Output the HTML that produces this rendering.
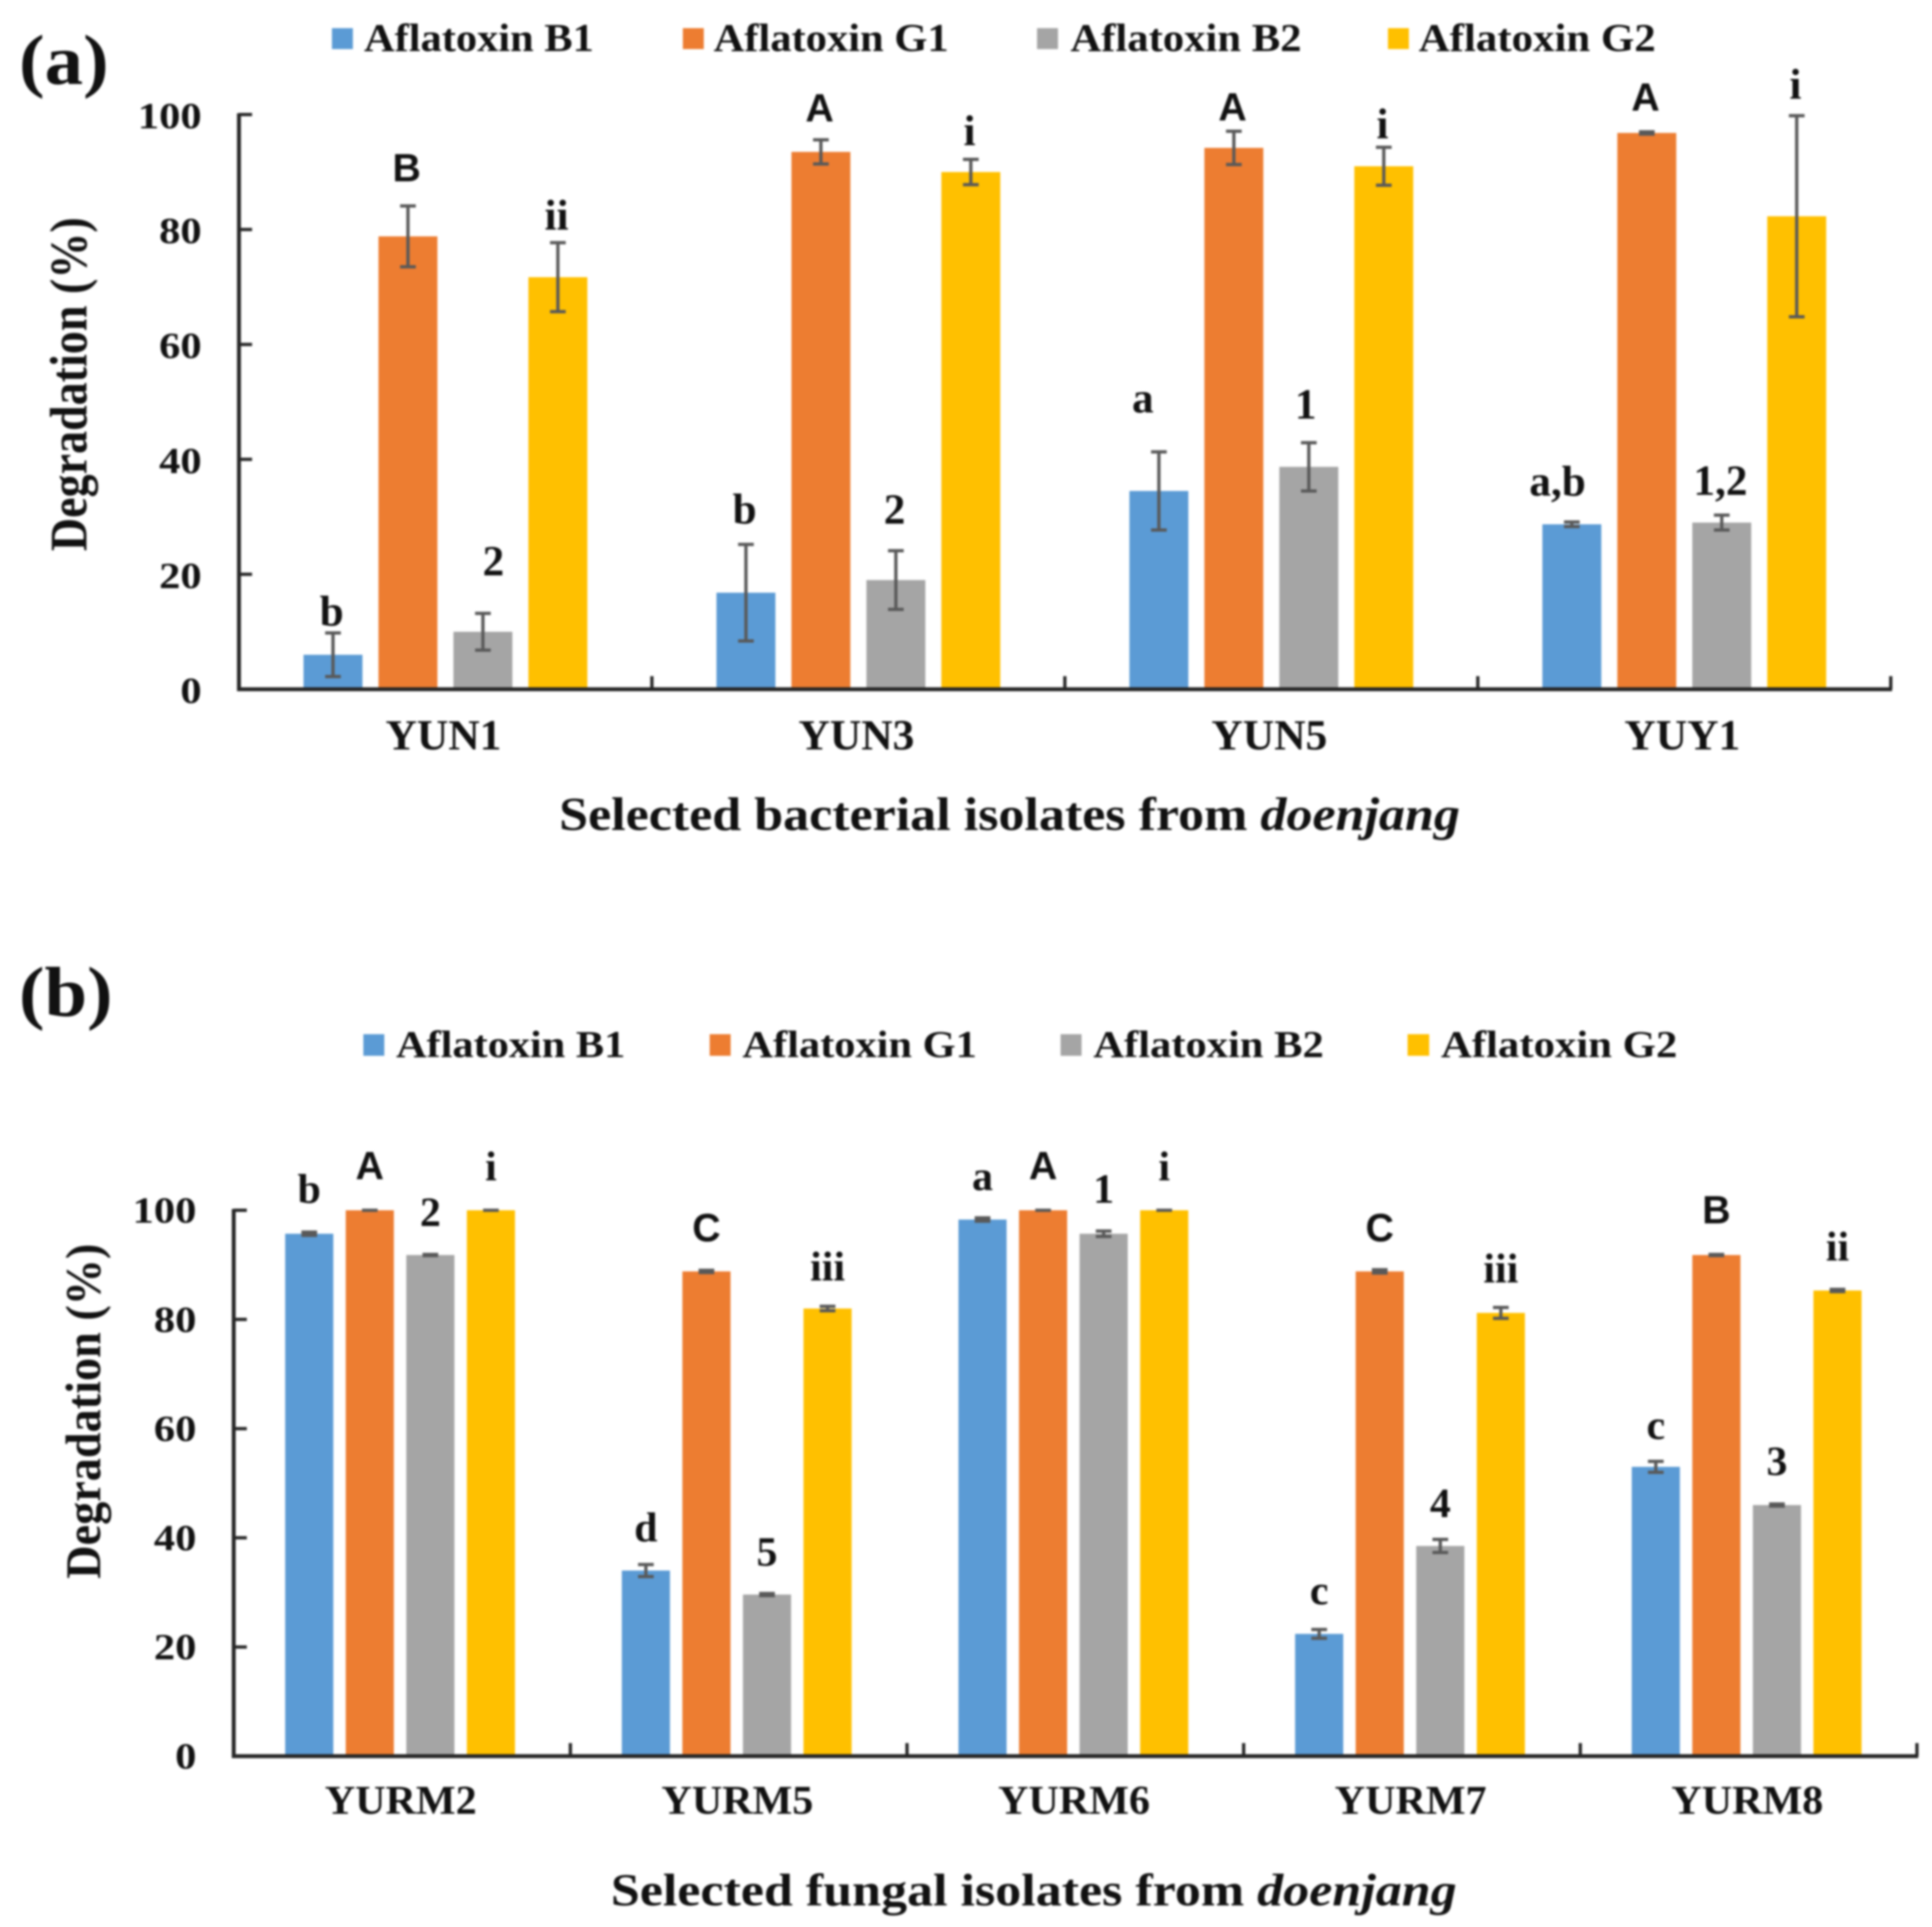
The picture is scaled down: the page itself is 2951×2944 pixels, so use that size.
<!DOCTYPE html>
<html lang="en">
<head>
<meta charset="utf-8">
<title>Aflatoxin degradation by doenjang isolates</title>
<style>
html,body{margin:0;padding:0;background:#fff;width:2951px;height:2944px;overflow:hidden}
svg{display:block;filter:blur(1.5px)}
text{font-family:"Liberation Serif",serif;font-weight:bold;fill:#111}
.sans{font-family:"Liberation Sans",sans-serif;fill:#111}
</style>
</head>
<body>
<svg id="figure" xmlns="http://www.w3.org/2000/svg" width="2951" height="2944" viewBox="0 0 2951 2944">
  <rect width="2951" height="2944" fill="#fff"/>

  <text x="29" y="128" font-size="108" textLength="137" lengthAdjust="spacingAndGlyphs">(a)</text>
  <g>
    <g><rect x="507" y="43" width="32" height="32" fill="#5B9BD5"/><text x="556" y="78" font-size="60" textLength="351" lengthAdjust="spacingAndGlyphs">Aflatoxin B1</text></g>
    <g><rect x="1043" y="43" width="32" height="32" fill="#ED7D31"/><text x="1090" y="78" font-size="60" textLength="359" lengthAdjust="spacingAndGlyphs">Aflatoxin G1</text></g>
    <g><rect x="1584" y="43" width="32" height="32" fill="#A5A5A5"/><text x="1635" y="78" font-size="60" textLength="353" lengthAdjust="spacingAndGlyphs">Aflatoxin B2</text></g>
    <g><rect x="2120" y="43" width="32" height="32" fill="#FFC000"/><text x="2167" y="78" font-size="60" textLength="362" lengthAdjust="spacingAndGlyphs">Aflatoxin G2</text></g>
  </g>
  <text transform="translate(132,587) rotate(-90)" text-anchor="middle" font-size="80" textLength="510" lengthAdjust="spacingAndGlyphs">Degradation (%)</text>
  <text x="854" y="1268" font-size="72" textLength="1376" lengthAdjust="spacingAndGlyphs">Selected bacterial isolates from <tspan font-style="italic">doenjang</tspan></text>
  <g id="chart-a"></g>

  <text x="29" y="1552" font-size="108" textLength="143" lengthAdjust="spacingAndGlyphs">(b)</text>
  <g>
    <g><rect x="555" y="1580" width="32" height="33" fill="#5B9BD5"/><text x="605" y="1615" font-size="58" textLength="350" lengthAdjust="spacingAndGlyphs">Aflatoxin B1</text></g>
    <g><rect x="1084" y="1580" width="32" height="33" fill="#ED7D31"/><text x="1134" y="1615" font-size="58" textLength="358" lengthAdjust="spacingAndGlyphs">Aflatoxin G1</text></g>
    <g><rect x="1620" y="1580" width="32" height="33" fill="#A5A5A5"/><text x="1670" y="1615" font-size="58" textLength="352" lengthAdjust="spacingAndGlyphs">Aflatoxin B2</text></g>
    <g><rect x="2150" y="1580" width="33" height="33" fill="#FFC000"/><text x="2201" y="1615" font-size="58" textLength="361" lengthAdjust="spacingAndGlyphs">Aflatoxin G2</text></g>
  </g>
  <text transform="translate(153,2156) rotate(-90)" text-anchor="middle" font-size="76" textLength="512" lengthAdjust="spacingAndGlyphs">Degradation (%)</text>
  <text x="933" y="2911" font-size="70" textLength="1292" lengthAdjust="spacingAndGlyphs">Selected fungal isolates from <tspan font-style="italic">doenjang</tspan></text>
  <g id="chart-b"></g>
</svg>

<script>
// Shared
var yTicks = [0, 20, 40, 60, 80, 100];
var seriesNames = ['b1', 'g1', 'b2', 'g2'];
var seriesColors = ['#5B9BD5', '#ED7D31', '#A5A5A5', '#FFC000'];

// Panel (a) data
var aCategories = ['YUN1', 'YUN3', 'YUN5', 'YUY1'];
var aB1 = [6, 16.8, 34.5, 28.7];
var aG1 = [78.8, 93.5, 94.2, 96.8];
var aB2 = [10, 19, 38.7, 29];
var aG2 = [71.7, 90, 91, 82.3];
var aB1Err = [3.8, 8.4, 6.8, 0.4];
var aG1Err = [5.3, 2.1, 2.9, 0.2];
var aB2Err = [3.2, 5.1, 4.2, 1.3];
var aG2Err = [6, 2.2, 3.3, 17.5];
var aB1Sig = ['b', 'b', 'a', 'a,b'];
var aG1Sig = ['B', 'A', 'A', 'A'];
var aB2Sig = ['2', '2', '1', '1,2'];
var aG2Sig = ['ii', 'i', 'i', 'i'];
var aB1SigGap = [1.3, 3.7, 6.9, 4.6];
var aG1SigGap = [4.3, 3.2, 1.9, 3.7];
var aB2SigGap = [6.6, 4.7, 4.2, 3.5];
var aG2SigGap = [2.3, 2.5, 1.6, 3];
var aB1SigNudge = [0, 0, -0.25, -0.22];
var aB2SigNudge = [0.2, 0, -0.03, 0];

// Panel (b) data
var bCategories = ['YURM2', 'YURM5', 'YURM6', 'YURM7', 'YURM8'];
var bB1 = [95.7, 34, 98.3, 22.4, 53];
var bG1 = [100, 88.8, 100, 88.8, 91.8];
var bB2 = [91.8, 29.6, 95.7, 38.5, 46];
var bG2 = [100, 82, 100, 81.2, 85.3];
var bB1Err = [0.3, 1.1, 0.3, 0.8, 1];
var bG1Err = [0, 0.2, 0, 0.3, 0.1];
var bB2Err = [0.1, 0.2, 0.5, 1.2, 0.2];
var bG2Err = [0, 0.4, 0, 1, 0.2];
var bB1Sig = ['b', 'd', 'a', 'c', 'c'];
var bG1Sig = ['A', 'C', 'A', 'C', 'B'];
var bB2Sig = ['2', '5', '1', '4', '3'];
var bG2Sig = ['i', 'iii', 'i', 'iii', 'ii'];
var bB1SigGap = [5.4, 4.3, 5.1, 4.6, 4.1];
var bG1SigGap = [5.7, 5.3, 5.7, 5.2, 5.7];
var bB2SigGap = [5.2, 5.1, 5.2, 4.1, 5.3];
var bG2SigGap = [5.5, 4.8, 5.5, 4.6, 5.3];

var SVGNS = 'http://www.w3.org/2000/svg';

function make(parent, tag, attrs, text) {
  var el = document.createElementNS(SVGNS, tag);
  for (var k in attrs) el.setAttribute(k, attrs[k]);
  if (text !== undefined) el.textContent = text;
  parent.appendChild(el);
  return el;
}

function drawChart(root, cfg) {
  var yScale = function (v) { return cfg.y0 + (cfg.y100 - cfg.y0) * v / 100; };
  var band = (cfg.xEnd - cfg.x0) / cfg.categories.length;
  var barX = function (g, s) {
    return cfg.x0 + cfg.barDx + band * g + band / 2 - (3 * cfg.step + cfg.barW) / 2 + s * cfg.step;
  };

  // bars
  cfg.values.forEach(function (series, s) {
    series.forEach(function (v, g) {
      var bar = make(root, 'rect', {
        x: barX(g, s), y: yScale(v), width: cfg.barW, height: cfg.y0 - yScale(v), fill: seriesColors[s]
      });
      
      
    });
  });

  // error bars
  cfg.errors.forEach(function (series, s) {
    series.forEach(function (e, g) {
      var v = cfg.values[s][g];
      var cx = barX(g, s) + cfg.barW / 2;
      var hi = yScale(v + e), lo = yScale(v - e);
      var eg = make(root, 'path', {
        d: 'M' + cx + ' ' + hi + 'V' + lo +
           'M' + (cx - cfg.cap) + ' ' + hi + 'H' + (cx + cfg.cap) +
           'M' + (cx - cfg.cap) + ' ' + lo + 'H' + (cx + cfg.cap),
        stroke: '#595959', 'stroke-width': 5, fill: 'none'
      });
      
      
    });
  });

  // significance letters
  cfg.sig.forEach(function (series, s) {
    series.forEach(function (label, g) {
      var v = cfg.values[s][g] + cfg.errors[s][g] + cfg.sigGap[s][g];
      var nudge = cfg.sigNudge && cfg.sigNudge[s] ? cfg.sigNudge[s][g] : 0;
      var isCap = /^[A-Z]$/.test(label);
      var t = make(root, 'text', {
        x: barX(g, s) + cfg.barW / 2 + nudge * cfg.barW + cfg.sigDx,
        y: yScale(v),
        'text-anchor': 'middle',
        'font-size': isCap ? cfg.capSize : cfg.sigSize,
        'class': isCap ? 'sans' : ''
      }, label);
      
      
    });
  });

  // y axis and ticks
  var yAxis = make(root, 'line', {
    x1: cfg.x0, x2: cfg.x0, y1: yScale(100) - 2, y2: cfg.y0 + 2, stroke: '#262626', 'stroke-width': 6
  });
  
  
  yTicks.forEach(function (tv) {
    if (tv > 0) {
      var tick = make(root, 'line', {
        x1: cfg.x0, x2: cfg.x0 + 20, y1: yScale(tv), y2: yScale(tv), stroke: '#262626', 'stroke-width': 5
      });
      
      
    }
    var lab = make(root, 'text', {
      x: cfg.yLabelX, y: yScale(tv) + cfg.yLabelDy, 'text-anchor': 'end', 'font-size': 56,
      textLength: String(tv).length * 32.5, lengthAdjust: 'spacingAndGlyphs'
    }, String(tv));
    
    
  });

  // x axis, ticks, categories
  var xAxis = make(root, 'line', {
    x1: cfg.x0 - 3, x2: cfg.xEnd + 2, y1: cfg.y0, y2: cfg.y0, stroke: '#262626', 'stroke-width': 6
  });
  
  
  cfg.categories.forEach(function (name, g) {
    var tx = cfg.x0 + band * (g + 1);
    var tick = make(root, 'line', {
      x1: tx, x2: tx, y1: cfg.y0, y2: cfg.y0 - 20, stroke: '#262626', 'stroke-width': 5
    });
    
    
    var lab = make(root, 'text', {
      x: cfg.x0 + band * (g + 0.5) + cfg.catDx, y: cfg.catY, 'text-anchor': 'middle',
      'font-size': cfg.catSize, textLength: cfg.catWidth, lengthAdjust: 'spacingAndGlyphs'
    }, name);
    
    
  });
}

drawChart(document.getElementById('chart-a'), {
  categories: aCategories,
  values: [aB1, aG1, aB2, aG2],
  errors: [aB1Err, aG1Err, aB2Err, aG2Err],
  sig: [aB1Sig, aG1Sig, aB2Sig, aG2Sig],
  sigGap: [aB1SigGap, aG1SigGap, aB2SigGap, aG2SigGap],
  sigNudge: [aB1SigNudge, null, aB2SigNudge, null],
  x0: 365, xEnd: 2888, y0: 1053, y100: 175,
  barDx: 0, sigDx: -2, catDx: -3,
  barW: 90, step: 114.5, cap: 12,
  sigSize: 66, capSize: 60,
  yLabelX: 308, yLabelDy: 21,
  catY: 1145, catSize: 66, catWidth: 177
});

drawChart(document.getElementById('chart-b'), {
  categories: bCategories,
  values: [bB1, bG1, bB2, bG2],
  errors: [bB1Err, bG1Err, bB2Err, bG2Err],
  sig: [bB1Sig, bG1Sig, bB2Sig, bG2Sig],
  sigGap: [bB1SigGap, bG1SigGap, bB2SigGap, bG2SigGap],
  sigNudge: null,
  x0: 357, xEnd: 2928, y0: 2683, y100: 1849,
  barDx: -3, sigDx: 0, catDx: -2,
  barW: 73.5, step: 92.5, cap: 12,
  sigSize: 64, capSize: 60,
  yLabelX: 300, yLabelDy: 19,
  catY: 2771, catSize: 62, catWidth: 232
});
</script>
</body>
</html>
